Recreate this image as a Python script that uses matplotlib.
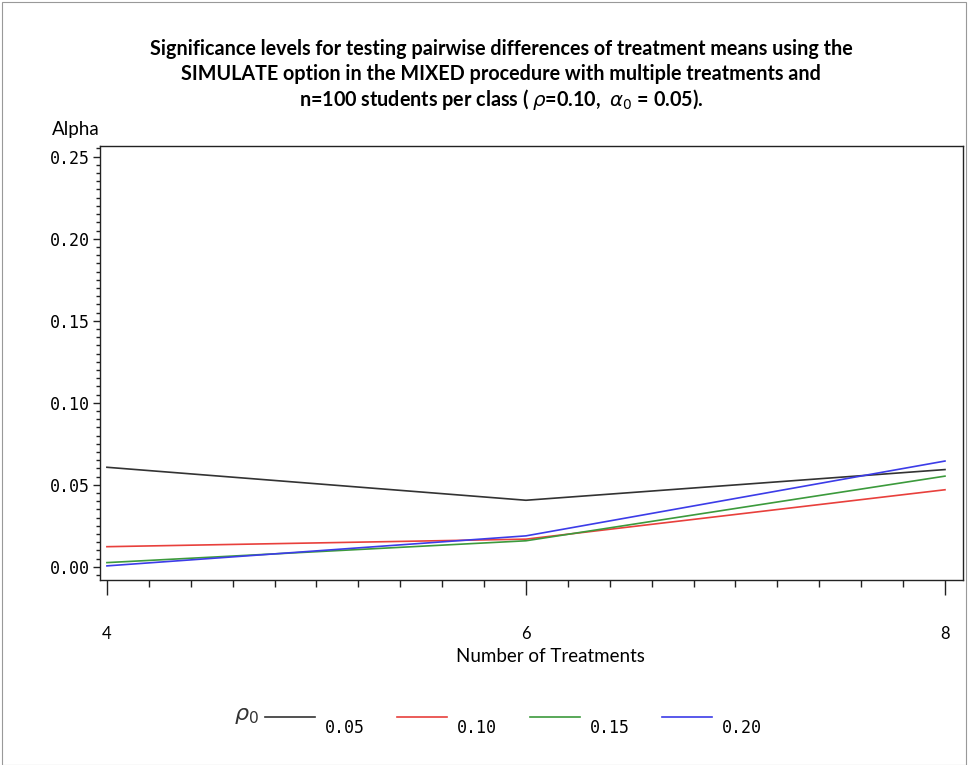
import matplotlib
matplotlib.use("Agg")
import matplotlib.pyplot as plt
from matplotlib.lines import Line2D
from matplotlib.ticker import MultipleLocator, FormatStrFormatter

# data
treatments = [4, 6, 8]
rho_labels = ["0.05", "0.10", "0.15", "0.20"]
alpha_005 = [0.0607, 0.0406, 0.0593]
alpha_010 = [0.0123, 0.0169, 0.0470]
alpha_015 = [0.0026, 0.0159, 0.0553]
alpha_020 = [0.0006, 0.0189, 0.0645]
series = [alpha_005, alpha_010, alpha_015, alpha_020]
colors = ["#333333", "#e8403c", "#3c9a3c", "#3c3ce8"]

W, H = 970, 765
fig = plt.figure(figsize=(W / 100, H / 100), dpi=100)
fig.patch.set_facecolor("white")

ax = fig.add_axes([100 / W, 1 - 580 / H, 863 / W, 434 / H])
for ys, c in zip(series, colors):
    ax.plot(treatments, ys, color=c, lw=1.2)

ax.set_xlim(3.967, 8.086)
ax.set_ylim(-0.008, 0.2565)
ax.xaxis.set_major_locator(MultipleLocator(2))
ax.xaxis.set_minor_locator(MultipleLocator(0.2))
ax.yaxis.set_major_locator(MultipleLocator(0.05))
ax.yaxis.set_minor_locator(MultipleLocator(0.005))
ax.yaxis.set_major_formatter(FormatStrFormatter("%.2f"))

ax.tick_params(axis="x", which="major", length=11, width=1, pad=22,
               labelsize=12, color="#222222")
ax.tick_params(axis="x", which="minor", length=5, width=1, color="#222222")
ax.tick_params(axis="y", which="major", length=5, width=1, pad=2,
               labelsize=12, color="#222222")
ax.tick_params(axis="y", which="minor", length=3, width=1, color="#222222")
for lab in ax.get_yticklabels():
    lab.set_family("DejaVu Sans Mono")
for lab in ax.get_xticklabels():
    lab.set_family("Lato")
for s in ax.spines.values():
    s.set_linewidth(1)
    s.set_color("#222222")

ax.set_xlabel("Number of Treatments", family="Lato", fontsize=13.5)
ax.xaxis.set_label_coords((550 - 100) / 863, -(657 - 580) / 434)
ax.xaxis.label.set_va("center")
fig.text(52 / W, 1 - 130 / H, "Alpha", family="Lato", fontsize=13.5,
         ha="left", va="center")

# title
title_lines = [
    "Significance levels for testing pairwise differences of treatment means using the",
    "SIMULATE option in the MIXED procedure with multiple treatments and",
    r"n=100 students per class ( $\rho$=0.10,  $\alpha_0$ = 0.05).",
]
for i, t in enumerate(title_lines):
    fig.text(501 / W, 1 - (49 + 25 * i) / H, t, family="Lato", weight="bold",
             fontsize=14.2, ha="center", va="center")

# legend drawn below the axes
fig.text(246 / W, 1 - 716 / H, r"$\rho_0$", fontsize=16, ha="center",
         va="center", color="#333333")
line_x = [265, 397, 530, 662]
for x0, c, lab in zip(line_x, colors, rho_labels):
    fig.add_artist(Line2D([x0 / W, (x0 + 50) / W], [1 - 717 / H] * 2,
                          color=c, lw=1.2, transform=fig.transFigure))
    fig.text((x0 + 60) / W, 1 - 728 / H, lab, family="DejaVu Sans Mono",
             fontsize=12, ha="left", va="center")

# thin page border
fig.add_artist(plt.Rectangle((2 / W, 0), (W - 6) / W, 1 - 2 / H,
                             transform=fig.transFigure, fill=False,
                             edgecolor="#999999", lw=0.8))

fig.savefig("out.png", dpi=100, facecolor="white")
